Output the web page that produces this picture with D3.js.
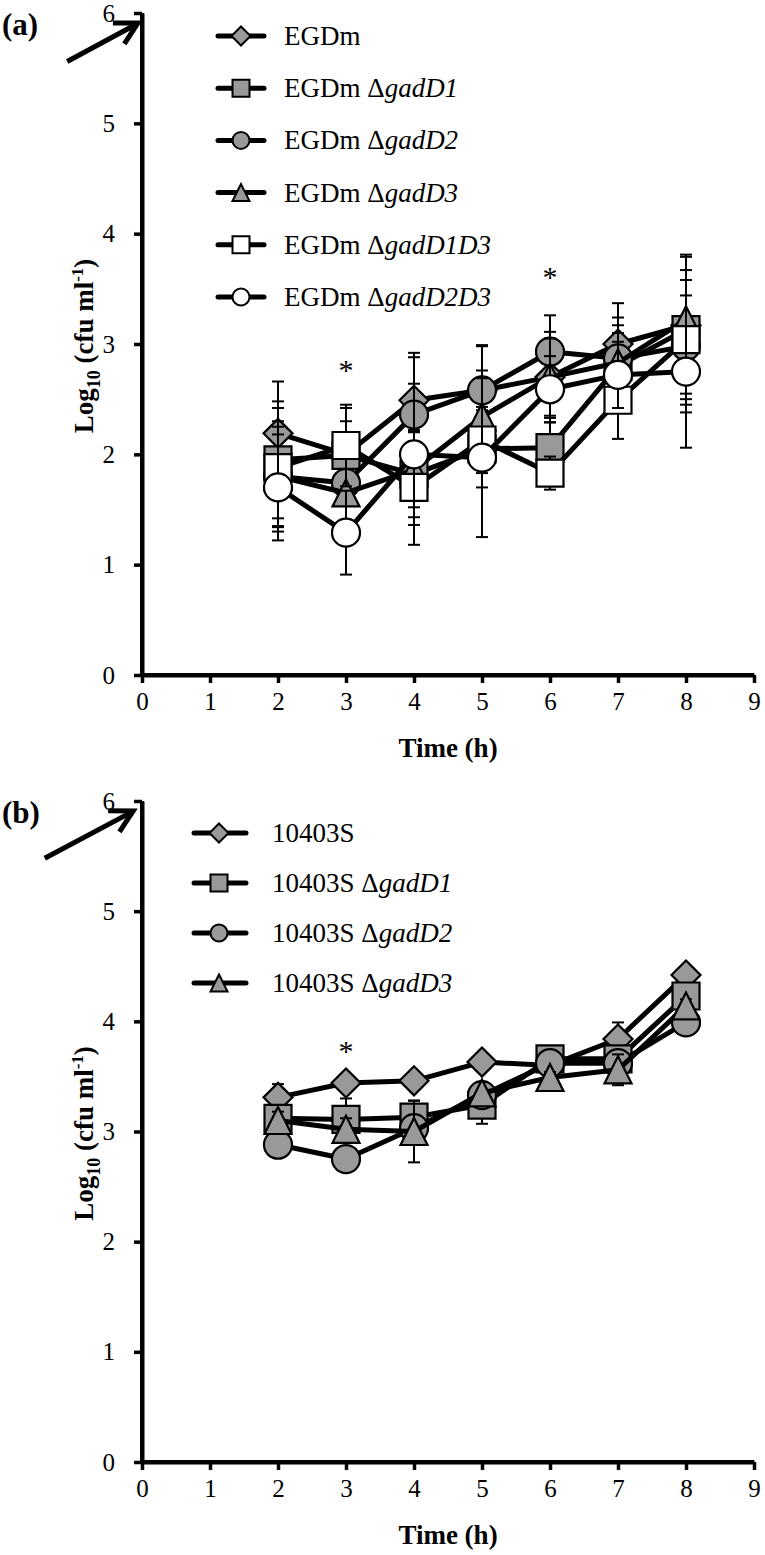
<!DOCTYPE html>
<html><head><meta charset="utf-8">
<script src="https://cdn.jsdelivr.net/npm/d3@7"></script>
<style>
body{margin:0;background:#fff}
svg{display:block}
text{font-family:"Liberation Serif","Times New Roman",serif;fill:#000}
</style>
</head><body>
<svg id="c" width="765" height="1555"></svg>
<script>
// ---------- data ----------
const hours = [2, 3, 4, 5, 6, 7, 8];
const xTickValues = [0, 1, 2, 3, 4, 5, 6, 7, 8, 9];
const yTickValues = [0, 1, 2, 3, 4, 5, 6];

// panel (a)
const strainA = "EGDm";
const mutantsA = ["", "gadD1", "gadD2", "gadD3", "gadD1D3", "gadD2D3"];
const egdm      = [2.19, 2.00, 2.49, 2.58, 2.70, 3.00, 3.17];
const egdmD1    = [1.95, 1.99, 1.82, 2.05, 2.06, 2.80, 3.13];
const egdmD2    = [1.80, 1.74, 2.36, 2.58, 2.93, 2.87, 2.98];
const egdmD3    = [1.80, 1.65, 1.86, 2.34, 2.70, 2.83, 3.22];
const egdmD1D3  = [1.88, 2.08, 1.70, 2.13, 1.83, 2.49, 3.04];
const egdmD2D3  = [1.70, 1.29, 2.00, 1.97, 2.59, 2.72, 2.75];
const errEgdm     = [0.47, 0.30, 0.43, 0.40, 0.41, 0.37, 0.62];
const errEgdmD1   = [0.53, 0.43, 0.39, 0.35, 0.27, 0.30, 0.68];
const errEgdmD2   = [0.45, 0.35, 0.52, 0.41, 0.33, 0.30, 0.60];
const errEgdmD3   = [0.50, 0.40, 0.34, 0.42, 0.35, 0.41, 0.45];
const errEgdmD1D3 = [0.54, 0.37, 0.52, 0.30, 0.15, 0.35, 0.54];
const errEgdmD2D3 = [0.48, 0.38, 0.64, 0.72, 0.30, 0.30, 0.69];
const starsA = [[3, 2.81], [6, 3.65]];

// panel (b)
const strainB = "10403S";
const mutantsB = ["", "gadD1", "gadD2", "gadD3"];
const s10403   = [3.31, 3.44, 3.46, 3.63, 3.60, 3.84, 4.42];
const s10403D1 = [3.12, 3.11, 3.13, 3.24, 3.66, 3.66, 4.23];
const s10403D2 = [2.88, 2.75, 3.03, 3.33, 3.62, 3.62, 3.99];
const s10403D3 = [3.10, 3.02, 3.00, 3.35, 3.49, 3.56, 4.14];
const err10403   = [0.12, 0.08, 0.06, 0.05, 0.05, 0.15, 0.05];
const err10403D1 = [0.10, 0.19, 0.15, 0.17, 0.06, 0.10, 0.08];
const err10403D2 = [0.08, 0.06, 0.10, 0.10, 0.05, 0.08, 0.05];
const err10403D3 = [0.08, 0.10, 0.28, 0.10, 0.05, 0.14, 0.06];
const starsB = [[3, 3.78]];

// arrows (in data units of each panel)
const arrowA = [[-1.10, 5.56], [-0.06, 5.91]];
const arrowB = [[-1.43, 5.48], [-0.13, 5.91]];

// ---------- drawing ----------
const svg = d3.select("#c");
const GREY = "#999999";
const SERIF = "'Liberation Serif','Times New Roman',serif";

function shapePath(shape, s) {
  if (shape === "diamond") return `M0,${-s}L${s},0L0,${s}L${-s},0Z`;
  if (shape === "square") return `M${-s},${-s}H${s}V${s}H${-s}Z`;
  if (shape === "triangle") return `M0,${-s}L${s},${s}L${-s},${s}Z`;
  if (shape === "circle") return d3.arc()({innerRadius:0, outerRadius:s, startAngle:0, endAngle:2*Math.PI});
}

function drawPanel(cfg) {
  const g = svg.append("g");
  const x = d3.scaleLinear().domain([0, 9]).range([142, 754]);
  const y = d3.scaleLinear().domain([0, 6]).range(cfg.yRange);

  // axes
  const ax = g.append("g").attr("transform", `translate(0,${y(0)})`)
    .call(d3.axisBottom(x).tickValues(xTickValues).tickFormat(d3.format("d")).tickSize(8).tickSizeOuter(0).tickPadding(9));
  const ay = g.append("g").attr("transform", `translate(${x(0)},0)`)
    .call(d3.axisLeft(y).tickValues(yTickValues).tickFormat(d3.format("d")).tickSize(8).tickSizeOuter(0).tickPadding(19));
  [ax, ay].forEach(a => {
    a.attr("font-family", SERIF).attr("font-size", 25);
    a.select(".domain").attr("stroke", "#000").attr("stroke-width", 4);
    a.selectAll(".tick line").attr("stroke", "#000").attr("stroke-width", 3.5);
    a.selectAll(".tick text").attr("font-size", 25).attr("fill", "#000");
  });
  g.append("line").attr("x1", x(0) - 2).attr("x2", x(9)).attr("y1", y(0)).attr("y2", y(0))
    .attr("stroke", "#000").attr("stroke-width", 4);
  g.append("line").attr("x1", x(0)).attr("x2", x(0)).attr("y1", y(0) + 2).attr("y2", y(6))
    .attr("stroke", "#000").attr("stroke-width", 4);

  // axis titles
  g.append("text").attr("x", 448).attr("y", y(0) + 82).attr("text-anchor", "middle")
    .attr("font-size", 27).attr("font-weight", "bold").text("Time (h)");
  const yt = g.append("text").attr("transform", `translate(93,${y(3) + 2}) rotate(-90)`)
    .attr("text-anchor", "middle").attr("font-size", 27).attr("font-weight", "bold");
  yt.append("tspan").text("Log");
  yt.append("tspan").attr("font-size", 18).attr("dy", 7).text("10");
  yt.append("tspan").attr("dy", -7).text(" (cfu ml");
  yt.append("tspan").attr("font-size", 17).attr("dy", -10).text("-1");
  yt.append("tspan").attr("dy", 10).text(")");

  // panel tag
  g.append("text").attr("x", 2).attr("y", y(6) + 22).attr("font-size", 31).attr("font-weight", "bold").text(cfg.tag);

  // arrow
  const [p0, p1] = cfg.arrow.map(d => [x(d[0]), y(d[1])]);
  g.append("line").attr("x1", p0[0]).attr("y1", p0[1]).attr("x2", p1[0] - 3).attr("y2", p1[1] + 2)
    .attr("stroke", "#000").attr("stroke-width", 5);
  const ang = Math.atan2(p0[1] - p1[1], p0[0] - p1[0]);
  const L = 25, spread = Math.PI / 6.3;
  const b1 = [p1[0] + L * Math.cos(ang + spread), p1[1] + L * Math.sin(ang + spread)];
  const b2 = [p1[0] + L * Math.cos(ang - spread), p1[1] + L * Math.sin(ang - spread)];
  g.append("path").attr("d", `M${b1[0]},${b1[1]}L${p1[0]},${p1[1]}L${b2[0]},${b2[1]}`)
    .attr("fill", "none").attr("stroke", "#000").attr("stroke-width", 5).attr("stroke-linejoin", "miter");

  // asterisks
  g.selectAll(".star").data(cfg.stars).join("text")
    .attr("x", d => x(d[0])).attr("y", d => y(d[1]) + 15)
    .attr("text-anchor", "middle").attr("font-size", 30).text("*");

  // series
  const line = d3.line().x((d, i) => x(hours[i])).y(d => y(d));
  cfg.series.forEach(s => {
    const sg = g.append("g");
    const eb = sg.selectAll(".eb").data(s.values.map((v, i) => ({t: hours[i], v, e: s.errors[i]}))).join("g");
    eb.append("line").attr("x1", d => x(d.t)).attr("x2", d => x(d.t))
      .attr("y1", d => y(d.v - d.e)).attr("y2", d => y(d.v + d.e))
      .attr("stroke", "#000").attr("stroke-width", 2);
    [-1, 1].forEach(sign => {
      eb.append("line").attr("x1", d => x(d.t) - 6).attr("x2", d => x(d.t) + 6)
        .attr("y1", d => y(d.v + sign * d.e)).attr("y2", d => y(d.v + sign * d.e))
        .attr("stroke", "#000").attr("stroke-width", 2);
    });
    sg.append("path").attr("d", line(s.values)).attr("fill", "none")
      .attr("stroke", "#000").attr("stroke-width", 5).attr("stroke-linejoin", "round");
    sg.selectAll(".mk").data(s.values).join("path")
      .attr("transform", (d, i) => `translate(${x(hours[i])},${y(d)})`)
      .attr("d", shapePath(s.shape, s.shape === "diamond" ? 14.5 : (s.shape === "circle" ? 14 : 13.5)))
      .attr("fill", s.fill).attr("stroke", "#000").attr("stroke-width", 2.2);
  });

  // legend
  const lg = g.append("g");
  cfg.series.forEach((s, i) => {
    const ly = cfg.legend.y0 + i * cfg.legend.dy;
    lg.append("line").attr("x1", cfg.legend.x0).attr("x2", cfg.legend.x1).attr("y1", ly).attr("y2", ly)
      .attr("stroke", "#000").attr("stroke-width", 5).attr("stroke-linecap", "round");
    lg.append("path").attr("transform", `translate(${cfg.legend.mx},${ly})`)
      .attr("d", shapePath(s.shape, s.shape === "diamond" ? 9.5 : 8.5))
      .attr("fill", s.fill).attr("stroke", "#000").attr("stroke-width", 2);
    const t = lg.append("text").attr("x", cfg.legend.tx).attr("y", ly + 9).attr("font-size", 27);
    t.append("tspan").text(cfg.strain);
    if (s.mutant) {
      t.append("tspan").text(" \u0394");
      t.append("tspan").attr("font-style", "italic").text(s.mutant);
    }
  });
}

const shapesA = ["diamond", "square", "circle", "triangle", "square", "circle"];
const fillsA = [GREY, GREY, GREY, GREY, "#fff", "#fff"];
const valsA = [egdm, egdmD1, egdmD2, egdmD3, egdmD1D3, egdmD2D3];
const errsA = [errEgdm, errEgdmD1, errEgdmD2, errEgdmD3, errEgdmD1D3, errEgdmD2D3];
drawPanel({
  tag: "(a)", yRange: [675, 13], strain: strainA, arrow: arrowA, stars: starsA,
  series: mutantsA.map((m, i) => ({mutant: m, values: valsA[i], errors: errsA[i], shape: shapesA[i], fill: fillsA[i]})),
  legend: {x0: 218, x1: 264, mx: 241, tx: 284, y0: 36, dy: 52.2}
});

const shapesB = ["diamond", "square", "circle", "triangle"];
const valsB = [s10403, s10403D1, s10403D2, s10403D3];
const errsB = [err10403, err10403D1, err10403D2, err10403D3];
drawPanel({
  tag: "(b)", yRange: [1462, 801], strain: strainB, arrow: arrowB, stars: starsB,
  series: mutantsB.map((m, i) => ({mutant: m, values: valsB[i], errors: errsB[i], shape: shapesB[i], fill: GREY})),
  legend: {x0: 194, x1: 246, mx: 219, tx: 272, y0: 833, dy: 50}
});
</script>
</body></html>
